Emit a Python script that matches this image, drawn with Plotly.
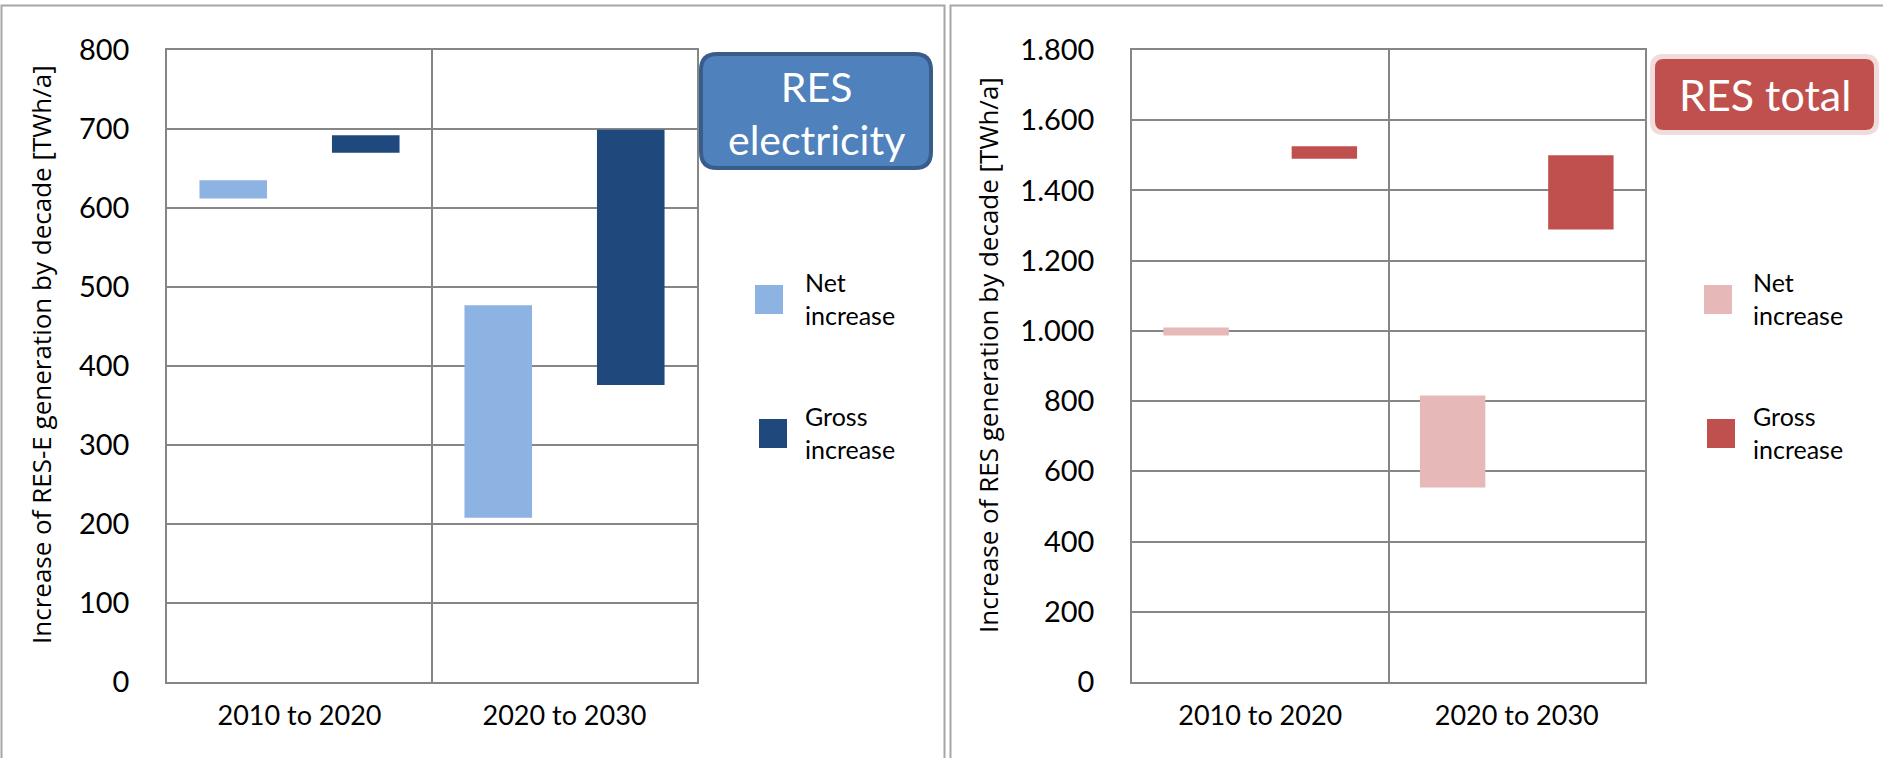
import plotly.graph_objects as go

# ---------------- data (TWh/a) ----------------
categories = ["2010 to 2020", "2020 to 2030"]

# RES electricity: floating ranges (low, high)
elec_net_low = [612, 208]
elec_net_high = [635, 477]
elec_gross_low = [670, 376]
elec_gross_high = [692, 699]

# RES total: floating ranges (low, high)
total_net_low = [987, 554]
total_net_high = [1010, 816]
total_gross_low = [1490, 1289]
total_gross_high = [1526, 1500]

elec_ticks = [0, 100, 200, 300, 400, 500, 600, 700, 800]
total_ticks = [0, 200, 400, 600, 800, 1000, 1200, 1400, 1600, 1800]

legend_labels = ["Net<br>increase", "Gross<br>increase"]
elec_title = "RES<br>electricity"
total_title = "RES total"
elec_ytitle = "Increase of RES-E generation by decade [TWh/a]"
total_ytitle = "Increase of RES generation by decade [TWh/a]"

# ---------------- styling ----------------
W, H = 1883, 758
C_NET_E, C_GROSS_E = "#8DB3E2", "#1F497D"
C_NET_T, C_GROSS_T = "#E6B9B8", "#C0504D"
GRID = "#868686"
TICKFONT = "Lato, Carlito, sans-serif"
TITLEFONT = "Open Sans, DejaVu Sans, sans-serif"


def px(x):
    return x / W


def py(y):
    return 1 - y / H


def rounded_rect(x0, y0, x1, y1, r):
    pts = [
        f"M {px(x0 + r)} {py(y0)}",
        f"L {px(x1 - r)} {py(y0)}",
        f"Q {px(x1)} {py(y0)} {px(x1)} {py(y0 + r)}",
        f"L {px(x1)} {py(y1 - r)}",
        f"Q {px(x1)} {py(y1)} {px(x1 - r)} {py(y1)}",
        f"L {px(x0 + r)} {py(y1)}",
        f"Q {px(x0)} {py(y1)} {px(x0)} {py(y1 - r)}",
        f"L {px(x0)} {py(y0 + r)}",
        f"Q {px(x0)} {py(y0)} {px(x0 + r)} {py(y0)}",
        "Z",
    ]
    return " ".join(pts)


fig = go.Figure()


def add_range_bar(low, high, color, name, xa, ya):
    fig.add_trace(go.Bar(
        x=categories,
        y=[h - l for l, h in zip(low, high)],
        base=low,
        marker=dict(color=color, line=dict(width=0)),
        name=name,
        showlegend=False,
        xaxis=xa, yaxis=ya,
    ))


add_range_bar(elec_net_low, elec_net_high, C_NET_E, "Net increase", "x", "y")
add_range_bar(elec_gross_low, elec_gross_high, C_GROSS_E, "Gross increase", "x", "y")
add_range_bar(total_net_low, total_net_high, C_NET_T, "Net increase", "x2", "y2")
add_range_bar(total_gross_low, total_gross_high, C_GROSS_T, "Gross increase", "x2", "y2")

ydom = [py(682), py(50)]
xcommon = dict(
    type="category", tickson="boundaries", range=[-0.5, 1.5],
    showgrid=True, gridcolor=GRID, gridwidth=1.5,
    showline=True, mirror=True, linecolor=GRID, linewidth=1.5,
    ticks="", tickfont=dict(family=TICKFONT, size=27, color="#000"),
    ticklabelstandoff=9, fixedrange=True, automargin=False,
)
ycommon = dict(
    showgrid=True, gridcolor=GRID, gridwidth=1.5,
    showline=True, mirror=True, linecolor=GRID, linewidth=1.5,
    zeroline=False, ticks="", tickformat=",",
    tickfont=dict(family=TICKFONT, size=29, color="#000"),
    ticklabelstandoff=30, fixedrange=True, automargin=False,
)

fig.update_layout(
    width=W, height=H, autosize=False,
    margin=dict(l=0, r=0, t=0, b=0, pad=0, autoexpand=False),
    paper_bgcolor="white", plot_bgcolor="white",
    separators=",.",
    barmode="group", bargap=0, bargroupgap=0.49,
    showlegend=False,
    xaxis=dict(domain=[px(167), px(697)], anchor="y", **xcommon),
    yaxis=dict(domain=ydom, anchor="x", range=[0, 800], tickvals=elec_ticks, **ycommon),
    xaxis2=dict(domain=[px(1132), px(1645)], anchor="y2", **xcommon),
    yaxis2=dict(domain=ydom, anchor="x2", range=[0, 1800], tickvals=total_ticks, **ycommon),
)

shapes = []
# panel frames
PANEL = "#A6A6A6"
shapes.append(dict(type="path", xref="paper", yref="paper",
                   path=f"M {px(1.5)} {py(770)} L {px(1.5)} {py(5.5)} L {px(944.5)} {py(5.5)} L {px(944.5)} {py(770)}",
                   line=dict(color=PANEL, width=2), layer="below"))
shapes.append(dict(type="path", xref="paper", yref="paper",
                   path=f"M {px(950.5)} {py(770)} L {px(950.5)} {py(5.5)} L {px(1895)} {py(5.5)}",
                   line=dict(color=PANEL, width=2), layer="below"))
# title boxes
shapes.append(dict(type="path", xref="paper", yref="paper",
                   path=rounded_rect(701, 54, 931, 168, 16),
                   fillcolor="#4F81BD", line=dict(color="#385D8A", width=4), layer="above"))
shapes.append(dict(type="path", xref="paper", yref="paper",
                   path=rounded_rect(1652.5, 56.5, 1876.5, 132.5, 11),
                   fillcolor="#C0504D", line=dict(color="#F2DCDB", width=5), layer="above"))
# legend swatches
for (x0, y0, c) in [(755, 285, C_NET_E), (759, 419, C_GROSS_E),
                    (1704, 285, C_NET_T), (1707, 419, C_GROSS_T)]:
    shapes.append(dict(type="rect", xref="paper", yref="paper",
                       x0=px(x0), x1=px(x0 + 28), y0=py(y0 + 29), y1=py(y0),
                       fillcolor=c, line=dict(width=0), layer="above"))
fig.update_layout(shapes=shapes)

ann = []
# axis titles
ann.append(dict(x=px(41), y=py(355), xref="paper", yref="paper", text=elec_ytitle,
                textangle=-90, showarrow=False, xanchor="center", yanchor="middle",
                font=dict(family=TITLEFONT, size=26, color="#000")))
ann.append(dict(x=px(988), y=py(355), xref="paper", yref="paper", text=total_ytitle,
                textangle=-90, showarrow=False, xanchor="center", yanchor="middle",
                font=dict(family=TITLEFONT, size=26, color="#000")))
# box titles
ann.append(dict(x=px(816), y=py(113), xref="paper", yref="paper", text=elec_title,
                showarrow=False, xanchor="center", yanchor="middle",
                font=dict(family=TICKFONT, size=41, color="white")))
ann.append(dict(x=px(1764.5), y=py(94.5), xref="paper", yref="paper", text=total_title,
                showarrow=False, xanchor="center", yanchor="middle",
                font=dict(family=TICKFONT, size=43, color="white")))
# legend labels
for (x, y, t) in [(803, 298, legend_labels[0]), (803, 432, legend_labels[1]),
                  (1751, 298, legend_labels[0]), (1751, 432, legend_labels[1])]:
    ann.append(dict(x=px(x), y=py(y), xref="paper", yref="paper", text=t,
                    showarrow=False, xanchor="left", yanchor="middle", align="left",
                    font=dict(family=TICKFONT, size=25, color="#000")))
fig.update_layout(annotations=ann)

fig.write_html("out.html", config={"displayModeBar": False},
               post_script="document.body.style.margin='0';document.body.style.overflow='hidden';")
